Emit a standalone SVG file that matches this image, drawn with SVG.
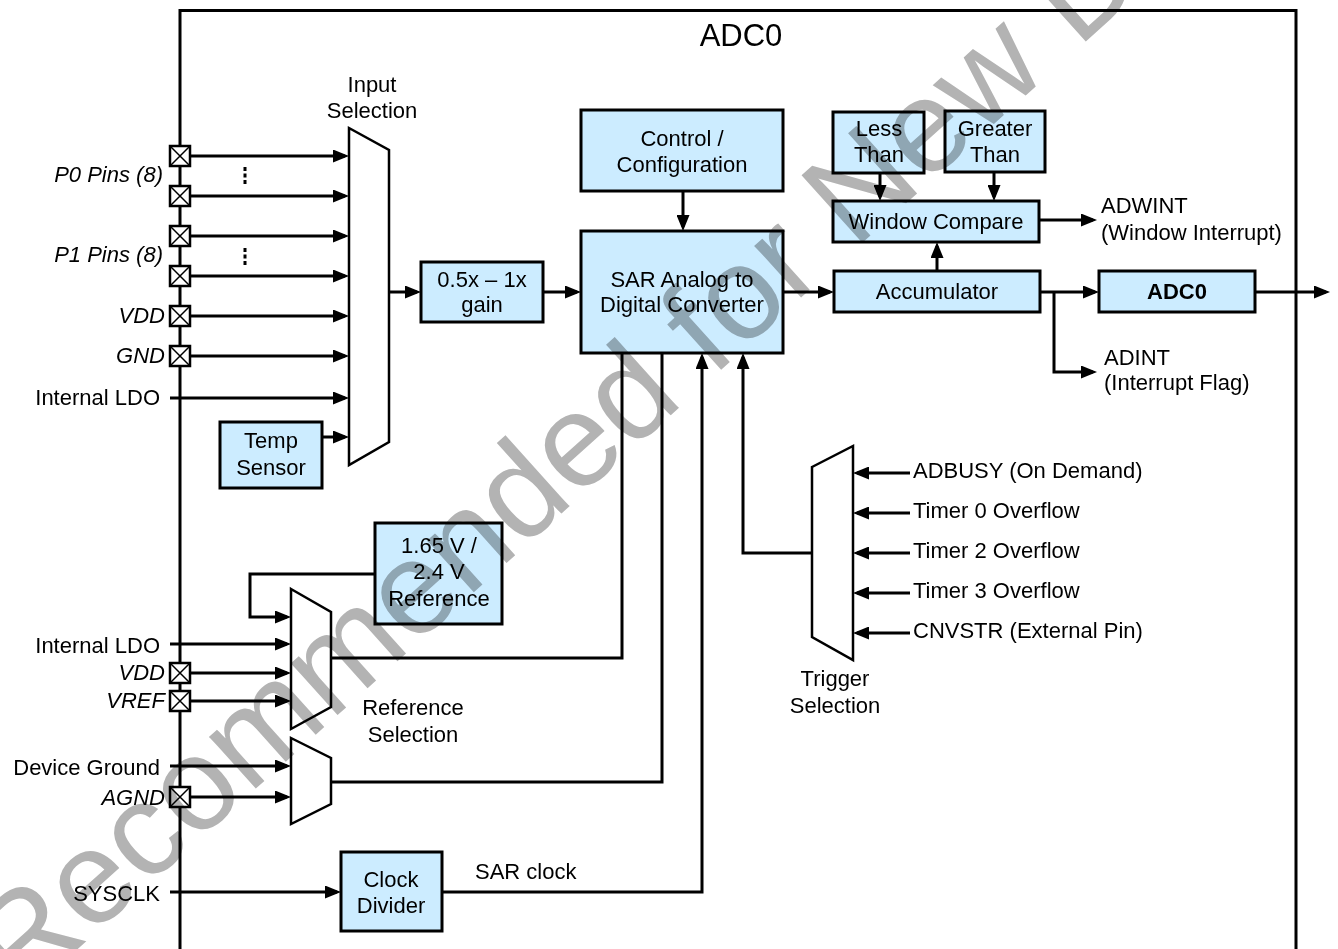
<svg xmlns="http://www.w3.org/2000/svg" width="1338" height="949" viewBox="0 0 1338 949">
<defs>
<style>
text{font-family:"Liberation Sans",Arial,sans-serif;font-size:22px;fill:#000}
.c{text-anchor:middle}
.r{text-anchor:end}
.i{font-style:italic}
.box{fill:#ccecff;stroke:#000;stroke-width:3}
.mux{fill:#fff;stroke:#000;stroke-width:2.5}
.pin{fill:#fff;stroke:#000;stroke-width:2.5}
.x{stroke:#000;stroke-width:1.5}
.w{fill:none;stroke:#000;stroke-width:3}
.a{fill:none;stroke:#000;stroke-width:3;marker-end:url(#ah)}
.wm{font-size:132px;fill:#b3b3b3;mix-blend-mode:multiply}
</style>
<marker id="ah" markerUnits="userSpaceOnUse" markerWidth="16" markerHeight="13" refX="12" refY="6.5" orient="auto">
<path d="M0,0 L16,6.5 L0,13 z" fill="#000"/>
</marker>
<g id="pinsym">
<rect class="pin" x="-10" y="-10" width="20" height="20"/>
<path class="x" d="M-10,-10 L10,10 M10,-10 L-10,10"/>
</g>
</defs>
<rect width="1338" height="949" fill="#fff"/>

<g id="frame">
<path class="w" d="M180,949 V10.5 H1296 V949"/>
<text x="741" y="46" class="c" style="font-size:31px">ADC0</text>
</g>

<g id="connectors">
<path class="a" d="M190,156 H345"/>
<path class="a" d="M190,196 H345"/>
<path class="a" d="M190,236 H345"/>
<path class="a" d="M190,276 H345"/>
<path class="a" d="M190,316 H345"/>
<path class="a" d="M190,356 H345"/>
<path class="a" d="M170,398 H345"/>
<path class="a" d="M322,437 H345"/>
<path class="a" d="M389,292 H417"/>
<path class="a" d="M543,292 H577"/>
<path class="a" d="M683,191 V227"/>
<path class="a" d="M783,292 H830"/>
<path class="a" d="M880,173 V197"/>
<path class="a" d="M994,172 V197"/>
<path class="a" d="M937,271 V246"/>
<path class="a" d="M1039,220 H1093"/>
<path class="a" d="M1040,292 H1095"/>
<path class="a" d="M1054,292 V372 H1093"/>
<path class="a" d="M1255,292 H1326"/>
<path class="a" d="M910,473 H857"/>
<path class="a" d="M910,513 H857"/>
<path class="a" d="M910,553 H857"/>
<path class="a" d="M910,593 H857"/>
<path class="a" d="M910,633 H857"/>
<path class="a" d="M812,553 H743 V357"/>
<path class="a" d="M375,574 H250 V617 H287"/>
<path class="a" d="M170,644 H287"/>
<path class="a" d="M190,673 H287"/>
<path class="a" d="M190,701 H287"/>
<path class="w" d="M331,658 H622 V353"/>
<path class="a" d="M170,766 H287"/>
<path class="a" d="M190,797 H287"/>
<path class="w" d="M331,782 H662 V353"/>
<path class="a" d="M170,892 H337"/>
<path class="a" d="M442,892 H702 V357"/>
<path d="M245,167 V185 M245,248 V266" stroke="#000" stroke-width="3" stroke-dasharray="4,2.5"/>
</g>

<g id="pins">
<use href="#pinsym" x="180" y="156"/>
<use href="#pinsym" x="180" y="196"/>
<use href="#pinsym" x="180" y="236"/>
<use href="#pinsym" x="180" y="276"/>
<use href="#pinsym" x="180" y="316"/>
<use href="#pinsym" x="180" y="356"/>
<use href="#pinsym" x="180" y="673"/>
<use href="#pinsym" x="180" y="701"/>
<use href="#pinsym" x="180" y="797"/>
</g>

<g id="labels">
<text x="163" y="182" class="r i">P0 Pins (8)</text>
<text x="163" y="262" class="r i">P1 Pins (8)</text>
<text x="165" y="323" class="r i">VDD</text>
<text x="165" y="363" class="r i">GND</text>
<text x="160" y="405" class="r">Internal LDO</text>
<text x="160" y="653" class="r">Internal LDO</text>
<text x="165" y="680" class="r i">VDD</text>
<text x="165" y="708" class="r i">VREF</text>
<text x="160" y="775" class="r">Device Ground</text>
<text x="165" y="805" class="r i">AGND</text>
<text x="160" y="901" class="r">SYSCLK</text>
<text x="475" y="879">SAR clock</text>
<text x="1101" y="213">ADWINT</text>
<text x="1101" y="240">(Window Interrupt)</text>
<text x="1104" y="365">ADINT</text>
<text x="1104" y="390">(Interrupt Flag)</text>
<text x="913" y="478">ADBUSY (On Demand)</text>
<text x="913" y="518">Timer 0 Overflow</text>
<text x="913" y="558">Timer 2 Overflow</text>
<text x="913" y="598">Timer 3 Overflow</text>
<text x="913" y="638">CNVSTR (External Pin)</text>
</g>

<g id="input-mux">
<polygon class="mux" points="349,128 389,150 389,442 349,465"/>
<text x="372" y="92" class="c">Input</text>
<text x="372" y="118" class="c">Selection</text>
</g>

<g id="temp-sensor">
<rect class="box" x="220" y="422" width="102" height="66"/>
<text x="271" y="448" class="c">Temp</text>
<text x="271" y="475" class="c">Sensor</text>
</g>

<g id="gain">
<rect class="box" x="421" y="262" width="122" height="60"/>
<text x="482" y="287" class="c">0.5x – 1x</text>
<text x="482" y="312" class="c">gain</text>
</g>

<g id="control">
<rect class="box" x="581" y="110" width="202" height="81"/>
<text x="682" y="146" class="c">Control /</text>
<text x="682" y="172" class="c">Configuration</text>
</g>

<g id="sar">
<rect class="box" x="581" y="231" width="202" height="122"/>
<text x="682" y="287" class="c">SAR Analog to</text>
<text x="682" y="312" class="c">Digital Converter</text>
</g>

<g id="less-than">
<rect class="box" x="833" y="112" width="91" height="61"/>
<text x="879" y="136" class="c">Less</text>
<text x="879" y="162" class="c">Than</text>
</g>

<g id="greater-than">
<rect class="box" x="945" y="111" width="100" height="61"/>
<text x="995" y="136" class="c">Greater</text>
<text x="995" y="162" class="c">Than</text>
</g>

<g id="window-compare">
<rect class="box" x="833" y="201" width="206" height="41"/>
<text x="936" y="229" class="c">Window Compare</text>
</g>

<g id="accumulator">
<rect class="box" x="834" y="271" width="206" height="41"/>
<text x="937" y="299" class="c">Accumulator</text>
</g>

<g id="adc0-reg">
<rect class="box" x="1099" y="271" width="156" height="41"/>
<text x="1177" y="299" class="c" style="font-weight:bold">ADC0</text>
</g>

<g id="reference">
<rect class="box" x="375" y="523" width="127" height="101"/>
<text x="439" y="553" class="c">1.65 V /</text>
<text x="439" y="579" class="c">2.4 V</text>
<text x="439" y="606" class="c">Reference</text>
</g>

<g id="ref-mux">
<polygon class="mux" points="291,589 331,612 331,707 291,729"/>
<text x="413" y="715" class="c">Reference</text>
<text x="413" y="742" class="c">Selection</text>
</g>

<g id="gnd-mux">
<polygon class="mux" points="291,738 331,758 331,804 291,824"/>
</g>

<g id="clock-divider">
<rect class="box" x="341" y="852" width="101" height="79"/>
<text x="391" y="887" class="c">Clock</text>
<text x="391" y="913" class="c">Divider</text>
</g>

<g id="trigger-mux">
<polygon class="mux" points="812,467 853,446 853,660 812,637"/>
<text x="835" y="686" class="c">Trigger</text>
<text x="835" y="713" class="c">Selection</text>
</g>

<g id="watermark">
<text class="wm" transform="translate(20,1001) rotate(-42)">Recommended for New D</text>
</g>
</svg>
